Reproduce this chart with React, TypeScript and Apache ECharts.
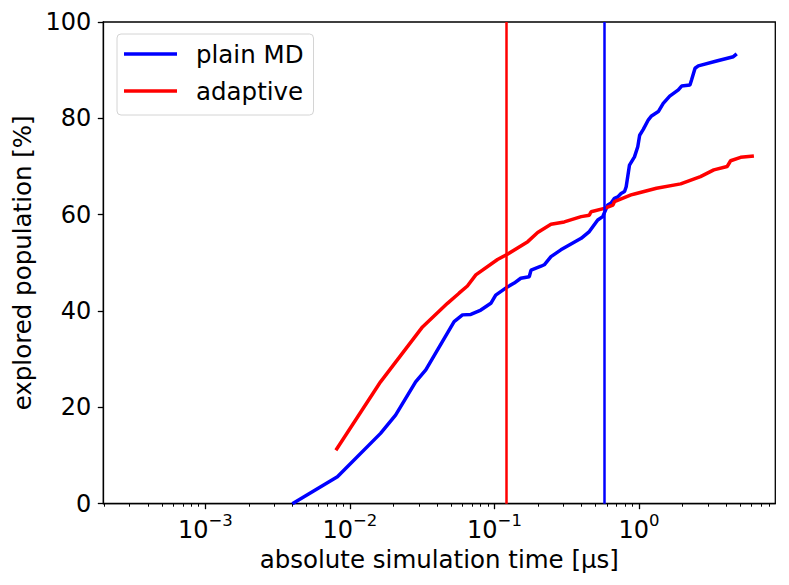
import React, { useEffect, useRef } from "react";
import * as echarts from "echarts";

// ---- data (times in µs, values in %) ----
const plainTime = [0.004, 0.0082, 0.0163, 0.0207, 0.0285, 0.0335, 0.0526, 0.0601, 0.0686, 0.0805, 0.0944, 0.102, 0.123, 0.137, 0.152, 0.174, 0.179, 0.21, 0.221, 0.246, 0.288, 0.398, 0.453, 0.518, 0.561, 0.607, 0.641, 0.676, 0.713, 0.751, 0.794, 0.815, 0.859, 0.93, 0.98, 1.01, 1.07, 1.16, 1.22, 1.36, 1.47, 1.63, 1.87, 1.97, 2.25, 2.31, 2.44, 2.57, 3.44, 4.49, 4.74];
const plainPct = [0, 5.6, 14.6, 18.4, 25.3, 27.8, 37.8, 39.2, 39.3, 40.2, 41.6, 43.3, 45.0, 45.8, 46.8, 47.1, 48.5, 49.3, 49.6, 51.3, 52.7, 55.1, 56.5, 58.9, 59.6, 62.0, 62.4, 63.4, 63.7, 64.4, 64.8, 65.8, 70.3, 72.0, 74.1, 76.5, 77.7, 79.7, 80.5, 81.4, 83.1, 84.6, 85.9, 86.7, 86.9, 88.0, 90.4, 90.9, 91.9, 92.8, 93.4];

const adaptiveTime = [0.008, 0.0163, 0.0318, 0.0473, 0.0569, 0.065, 0.0743, 0.105, 0.123, 0.17, 0.199, 0.246, 0.304, 0.398, 0.453, 0.466, 0.575, 0.66, 0.676, 0.88, 0.93, 1.32, 1.94, 2.66, 3.29, 4.07, 4.3, 5.04, 6.23];
const adaptivePct = [11.1, 25.3, 36.7, 41.6, 43.7, 45.2, 47.5, 50.7, 51.8, 54.4, 56.3, 58.0, 58.5, 59.6, 59.9, 60.6, 61.3, 62.0, 62.7, 64.1, 64.3, 65.5, 66.4, 67.9, 69.3, 70.0, 71.2, 71.9, 72.2];

const seriesNames = ["plain MD", "adaptive"];
const seriesColors = ["#0000ff", "#ff0000"];
const verticalLineTimes = [0.572, 0.119]; // blue, red

const xRange = [1.97e-4, 8.76];
const yRange = [0, 100];
const yInterval = 20;
const xMajorTicks = [1e-3, 1e-2, 1e-1, 1];
const xMinorMultipliers = [2, 3, 4, 5, 6, 7, 8, 9];
const xMinorDecades = [1e-4, 1e-3, 1e-2, 1e-1, 1];

const xTitle = "absolute simulation time [μs]";
const yTitle = "explored population [%]";

const FONT = "DejaVu Sans";

const lg = (v: number) => Math.log10(v);

export default function App() {
  const ref = useRef<HTMLDivElement>(null);

  useEffect(() => {
    if (!ref.current) return;
    const chart = echarts.init(ref.current, null, { renderer: "svg" });

    const xmin = lg(xRange[0]);
    const xmax = lg(xRange[1]);
    const major = xMajorTicks.map(lg);
    const minor: number[] = [];
    xMinorDecades.forEach((d) =>
      xMinorMultipliers.forEach((m) => {
        const v = lg(d * m);
        if (v >= xmin && v <= xmax) minor.push(v);
      })
    );

    const toPairs = (t: number[], p: number[]) => t.map((v, i) => [lg(v), p[i]]);

    const option: any = {
      animation: false,
      backgroundColor: "#ffffff",
      grid: {
        left: 103.3,
        right: 13.7,
        top: 22,
        bottom: 81.3,
        show: true,
        borderColor: "#000000",
        borderWidth: 1.3,
        backgroundColor: "transparent",
        containLabel: false,
        outerBoundsMode: "none",
      },
      legend: {
        data: seriesNames.map((n) => ({ name: n, icon: "rect" })),
        orient: "vertical",
        left: 117,
        top: 34,
        padding: [7, 10, 11, 7],
        itemGap: 11,
        itemWidth: 53,
        itemHeight: 3.5,
        backgroundColor: "#ffffff",
        borderColor: "#d4d4d4",
        borderWidth: 1,
        borderRadius: 4,
        textStyle: {
          fontFamily: FONT,
          fontSize: 24.5,
          color: "#000000",
          lineHeight: 26,
          padding: [0, 0, 0, 14],
        },
      },
      xAxis: [
        {
          type: "value",
          min: xmin,
          max: xmax,
          position: "bottom",
          name: xTitle,
          nameLocation: "middle",
          nameGap: 42,
          nameTextStyle: { fontFamily: FONT, fontSize: 24.5, color: "#000000" },
          axisLine: { show: true, onZero: false, lineStyle: { color: "#000000", width: 1.3 } },
          axisTick: {
            show: true,
            inside: false,
            length: 5.5,
            customValues: major,
            lineStyle: { color: "#000000", width: 1.3 },
          },
          axisLabel: {
            show: true,
            margin: 8,
            customValues: major,
            formatter: (v: number) => {
              const e = Math.round(v);
              const s = e < 0 ? "\u2212" + Math.abs(e) : String(e);
              return "{b|10}{s|" + s + "}";
            },
            rich: {
              b: { fontFamily: FONT, fontSize: 24, lineHeight: 30, color: "#000000", verticalAlign: "bottom" },
              s: { fontFamily: FONT, fontSize: 16.5, lineHeight: 18, color: "#000000", verticalAlign: "top" },
            },
          },
          splitLine: { show: false },
        },
        {
          type: "value",
          min: xmin,
          max: xmax,
          position: "bottom",
          axisLine: { show: false, onZero: false },
          axisTick: {
            show: true,
            inside: false,
            length: 3,
            customValues: minor,
            lineStyle: { color: "#000000", width: 1 },
          },
          axisLabel: { show: false },
          splitLine: { show: false },
        },
      ],
      yAxis: {
        type: "value",
        min: yRange[0],
        max: yRange[1],
        interval: yInterval,
        name: yTitle,
        nameLocation: "middle",
        nameGap: 68,
        nameTextStyle: { fontFamily: FONT, fontSize: 24.5, color: "#000000" },
        axisLine: { show: true, onZero: false, lineStyle: { color: "#000000", width: 1.3 } },
        axisTick: { show: true, inside: false, length: 5.5, lineStyle: { color: "#000000", width: 1.3 } },
        axisLabel: { fontFamily: FONT, fontSize: 24, color: "#000000", margin: 12 },
        splitLine: { show: false },
      },
      series: [
        {
          name: seriesNames[0],
          type: "line",
          xAxisIndex: 0,
          data: toPairs(plainTime, plainPct),
          showSymbol: false,
          symbol: "none",
          lineStyle: { color: seriesColors[0], width: 3.5 },
          itemStyle: { color: seriesColors[0] },
          z: 2,
        },
        {
          name: seriesNames[1],
          type: "line",
          xAxisIndex: 0,
          data: toPairs(adaptiveTime, adaptivePct),
          showSymbol: false,
          symbol: "none",
          lineStyle: { color: seriesColors[1], width: 3.5 },
          itemStyle: { color: seriesColors[1] },
          z: 2,
        },
        {
          name: "vlines",
          type: "line",
          xAxisIndex: 0,
          data: [],
          z: 3,
          markLine: {
            silent: true,
            symbol: ["none", "none"],
            label: { show: false },
            data: verticalLineTimes.map((t, i) => ({
              xAxis: lg(t),
              lineStyle: { color: seriesColors[i], width: 2.5, type: "solid" },
            })),
          },
        },
      ],
    };

    chart.setOption(option);
    return () => chart.dispose();
  }, []);

  return (
    <div
      ref={ref}
      style={{ position: "absolute", left: 0, top: 0, width: 789, height: 585 }}
    />
  );
}
